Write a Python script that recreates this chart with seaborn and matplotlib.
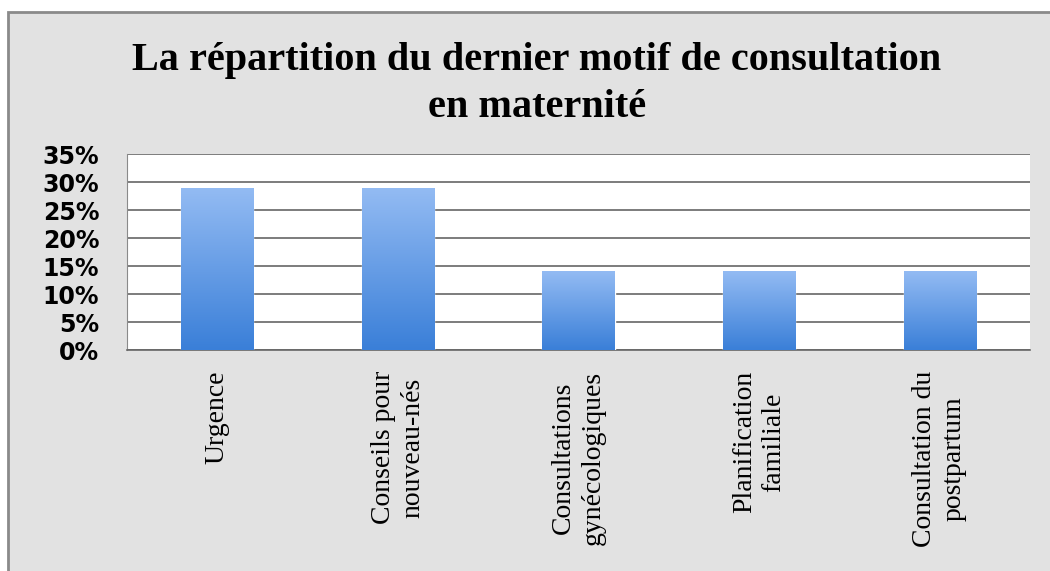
import numpy as np
import pandas as pd
import matplotlib
matplotlib.use("Agg")
import matplotlib.pyplot as plt
from matplotlib.patches import Rectangle
from matplotlib.ticker import FixedLocator, PercentFormatter
import seaborn as sns

# ── Data ────────────────────────────────────────────────────
categories = ['Urgence', 'Conseils pour\nnouveau-nés', 'Consultations\ngynécologiques',
              'Planification\nfamiliale', 'Consultation du\npostpartum']
values = [28.9, 28.9, 14.1, 14.1, 14.1]
y_ticks = [0, 5, 10, 15, 20, 25, 30, 35]

df = pd.DataFrame({'motif': categories, 'pct': values})

# ── Style ───────────────────────────────────────────────────
sns.set_style("white")
plt.rcParams['font.family'] = ['DejaVu Sans']
plt.rcParams['text.color'] = 'black'
plt.rcParams['xtick.color'] = 'black'
plt.rcParams['ytick.color'] = 'black'

fig = plt.figure(figsize=(10.5, 5.71), dpi=100)
fig.patch.set_facecolor('white')

# grey chart frame (white strip at top and left like the screenshot)
frame = Rectangle((8 / 1050, -0.01), 1.05, 1 - 12 / 571 + 0.01, transform=fig.transFigure,
                  facecolor='#e2e2e2', edgecolor='#8a8a8a', linewidth=2, zorder=-10)
fig.patches.append(frame)

ax = fig.add_axes([127 / 1050, 1 - 350 / 571, (1030 - 127) / 1050, (350 - 154) / 571])
ax.set_zorder(1)
ax.set_facecolor('white')

sns.barplot(data=df, x='motif', y='pct', color='#5f9be6', width=0.4, ax=ax,
            saturation=1, zorder=3)

# vertical gradient on the bars
grad = np.linspace(0, 1, 256).reshape(-1, 1)
cmap = matplotlib.colors.LinearSegmentedColormap.from_list('bar', ['#3a7fd8', '#93bbf3'])
for bar in ax.patches:
    x0, w, h = bar.get_x(), bar.get_width(), bar.get_height()
    im = ax.imshow(grad, cmap=cmap, aspect='auto', origin='lower',
                   extent=[x0, x0 + w, 0, h], zorder=4)
    im.set_clip_path(bar)

ax.set_xlim(-0.5, 4.5)
ax.set_ylim(0, 35)
ax.yaxis.set_major_locator(FixedLocator(y_ticks))
ax.yaxis.set_major_formatter(PercentFormatter(decimals=0))
ax.grid(axis='y', color='#666666', linewidth=1.2, zorder=1)
ax.set_axisbelow(True)

for side in ['top', 'right']:
    ax.spines[side].set_visible(False)
ax.spines['left'].set_color('#8a8a8a')
ax.spines['bottom'].set_color('#666666')
ax.spines['bottom'].set_linewidth(1.2)

ax.set_xlabel('')
ax.set_ylabel('')
ax.tick_params(axis='y', direction='out', length=6, color='#666666', pad=14,
               labelsize=17, labelcolor='black')
for lbl in ax.get_yticklabels():
    lbl.set_fontweight('bold')

# category boundaries as minor ticks
ax.xaxis.set_minor_locator(FixedLocator([0.5, 1.5, 2.5, 3.5, 4.5]))
ax.tick_params(axis='x', which='major', length=0, pad=15, labelcolor='black')
ax.tick_params(axis='x', which='minor', direction='out', length=5, color='#666666')
ax.set_xticks(range(len(categories)))
ax.set_xticklabels(categories, rotation=90, ha='center', va='top', fontsize=20,
                   family='Liberation Serif', multialignment='center', linespacing=1.25)

fig.text(537 / 1050, 1 - 84 / 571,
         'La répartition du dernier motif de consultation\nen maternité',
         ha='center', va='center', fontsize=29, fontweight='bold', color='black',
         family='Liberation Serif', linespacing=1.38)

fig.savefig('out.png', dpi=100)
